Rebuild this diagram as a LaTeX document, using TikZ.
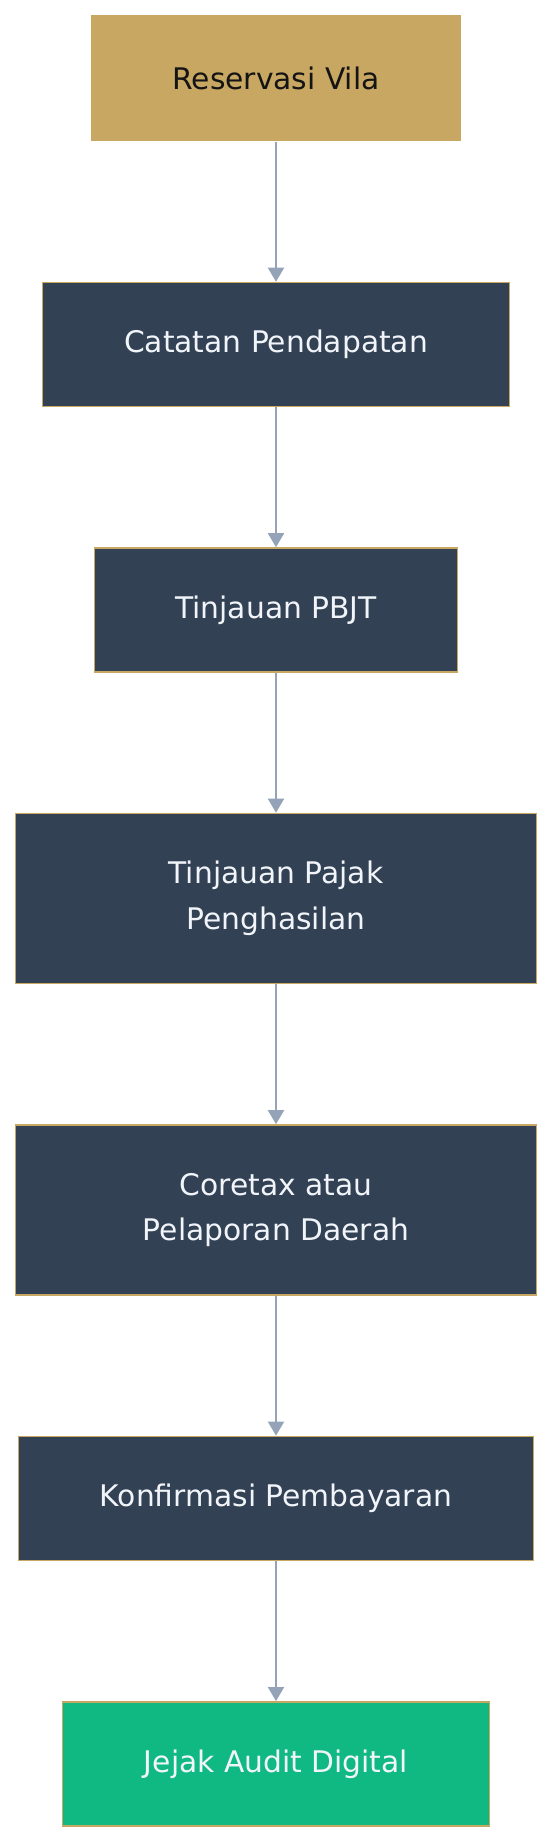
\documentclass[tikz,border=0pt]{standalone}
\usepackage{fontspec}
\setmainfont{DejaVu Sans}
\usepackage{xcolor}
\usepackage{tikz}
\usetikzlibrary{arrows.meta, positioning}
\definecolor{vilagold}{HTML}{C8A762}
\definecolor{slatebox}{HTML}{334155}
\definecolor{auditgreen}{HTML}{10B981}
\definecolor{flowgray}{HTML}{94A3B8}
\definecolor{boxtext}{HTML}{F1F5F9}

\begin{document}
\begin{tikzpicture}[
      x=0.75pt, y=-0.75pt,
      node distance=105pt,
      stage/.style={draw=vilagold, line width=1.1pt, fill=slatebox, text=boxtext,
        minimum height=93pt, inner sep=0pt, align=center,
        font=\fontsize{22.3}{34}\selectfont},
      tall/.style={minimum height=127.5pt},
      flow/.style={draw=flowgray, line width=1.5pt,
        -{Triangle[length=10.5pt, width=12pt]}},
    ]
    \useasboundingbox (0,0) rectangle (552,1838);
    % stages, top to bottom
    \node[stage, fill=vilagold, draw=none, text=black!92, minimum width=277.5pt,
      minimum height=94.5pt] (resv) at (276,78) {Reservasi Vila};
    \node[stage, below=of resv, minimum width=350pt] (income) {Catatan Pendapatan};
    \node[stage, below=of income, minimum width=272pt] (pbjt) {Tinjauan PBJT};
    \node[stage, tall, below=of pbjt, minimum width=391pt] (pph)
      {Tinjauan Pajak\\Penghasilan};
    \node[stage, tall, below=of pph, minimum width=391pt] (report)
      {Coretax atau\\Pelaporan Daerah};
    \node[stage, below=of report, minimum width=386pt] (paid) {Konfirmasi Pembayaran};
    \node[stage, fill=auditgreen, below=of paid, minimum width=320pt] (audit)
      {Jejak Audit Digital};
    % connectors
    \foreach \from/\to in {resv/income, income/pbjt, pbjt/pph, pph/report,
        report/paid, paid/audit}
      \draw[flow] (\from) -- (\to);
  \end{tikzpicture}
\end{document}
